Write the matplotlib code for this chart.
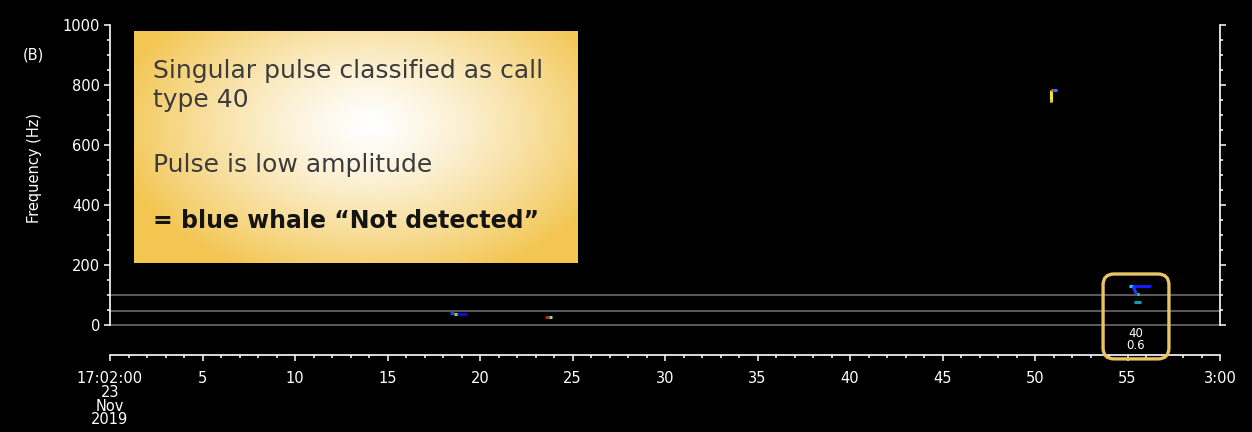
import numpy as np
import matplotlib
matplotlib.use("Agg")
import matplotlib.pyplot as plt
from matplotlib.patches import FancyBboxPatch
from matplotlib.ticker import MultipleLocator, FixedLocator

# ---------------- data ----------------
x_ticks = [0, 5, 10, 15, 20, 25, 30, 35, 40, 45, 50, 55, 60]
x_tick_labels = ["17:02:00\n23\nNov\n2019", "5", "10", "15", "20", "25", "30",
                 "35", "40", "45", "50", "55", "3:00"]
y_ticks = [0, 200, 400, 600, 800, 1000]
band_lines = [0, 48, 100]

# spectrogram fragments: start time (s), end time (s), start freq (Hz), end freq (Hz), colour
seg_t0 = [18.38, 18.62, 18.78, 23.50, 23.72, 50.86, 50.86, 50.97, 50.80, 55.08, 55.30, 55.30, 55.50, 55.35]
seg_t1 = [18.62, 18.80, 19.30, 23.75, 23.90, 50.86, 50.97, 51.20, 50.86, 55.30, 56.27, 55.50, 55.60, 55.75]
seg_f0 = [40, 36, 36, 28, 28, 745, 782, 782, 748, 130, 130, 130, 103, 78]
seg_f1 = [40, 36, 36, 28, 28, 782, 782, 782, 748, 130, 130, 100, 103, 78]
seg_col = ["#2a3cff", "#9ad43a", "#1010b8", "#b02a20", "#8ee08e", "#e6e830", "#ff5a20",
           "#2a78ff", "#b0b040", "#20d0ff", "#1818ff", "#1a3cff", "#40e040", "#10a0a8"]

# highlighted detection
det_t0, det_t1, det_f0, det_f1 = 53.68, 57.24, -113, 170
det_label = "40\n0.6"

box_lines = ["Singular pulse classified as call", "type 40", "Pulse is low amplitude",
             "= blue whale \u201cNot detected\u201d"]

# ---------------- figure ----------------
W, H = 1252, 432
fig = plt.figure(figsize=(W / 100, H / 100), dpi=100, facecolor="black")

ax = fig.add_axes([110 / W, 107 / H, 1110 / W, 300 / H])
ax.set_facecolor("black")
ax.set_xlim(0, 60)
ax.set_ylim(0, 1000)

for s in ["left", "right", "bottom"]:
    ax.spines[s].set_color("white")
    ax.spines[s].set_linewidth(1.2)
ax.spines["top"].set_visible(False)
ax.spines["bottom"].set_position(("outward", 21.6))

ax.xaxis.set_major_locator(FixedLocator(x_ticks))
ax.xaxis.set_minor_locator(MultipleLocator(1))
ax.set_xticklabels(x_tick_labels, fontsize=10.5, color="white", linespacing=0.9)
ax.yaxis.set_major_locator(FixedLocator(y_ticks))
ax.yaxis.set_minor_locator(MultipleLocator(50))
ax.set_yticklabels([str(v) for v in y_ticks], fontsize=10.5, color="white")
ax.tick_params(axis="both", which="both", direction="out", colors="white", width=1.1)
ax.tick_params(axis="x", which="major", length=4.5, pad=7)
ax.tick_params(axis="x", which="minor", length=2.5)
ax.tick_params(axis="y", which="major", length=4, pad=3, right=True, labelright=False)
ax.tick_params(axis="y", which="minor", length=2.2, right=True)

for b in band_lines:
    ax.axhline(b, color="#737373", lw=1.1, zorder=1, clip_on=False)

for t0, t1, f0, f1, c in zip(seg_t0, seg_t1, seg_f0, seg_f1, seg_col):
    ax.plot([t0, t1], [f0, f1], color=c, lw=2.2, solid_capstyle="butt", zorder=3)

# rounded highlight box (data-anchored)
px_per_s = 1110 / 60
px_per_hz = 300 / 1000
r_px = 11
patch = FancyBboxPatch((det_t0, det_f0), det_t1 - det_t0, det_f1 - det_f0,
                       boxstyle=f"round,pad=0,rounding_size={r_px / px_per_s}",
                       mutation_aspect=(r_px / px_per_hz) / (r_px / px_per_s),
                       fill=False, ec="#e8c465", lw=2.4, clip_on=False, zorder=5)
ax.add_patch(patch)
ax.text((det_t0 + det_t1) / 2, -47, det_label, color="white", fontsize=8.5,
        ha="center", va="center", linespacing=0.9, clip_on=False)

fig.text(35 / W, (432 - 168) / H, "Frequency (Hz)", color="white", fontsize=10.5,
         rotation=90, ha="center", va="center")
fig.text(33 / W, (432 - 55) / H, "(B)", color="white", fontsize=10.5, ha="center", va="center")

# gradient annotation box
bx = fig.add_axes([134 / W, (432 - 263) / H, 444 / W, 232 / H])
bx.set_axis_off()
nx, ny = 444, 232
xx, yy = np.meshgrid(np.linspace(0, 1, nx), np.linspace(0, 1, ny))
r = np.sqrt(((xx - 0.53) / 0.58) ** 2 + ((yy - 0.41) / 0.70) ** 2)
t = np.clip(r, 0, 1) ** 1.3
edge = np.array([243, 198, 82]) / 255.0
img = (1 - t)[..., None] * np.array([1.0, 1.0, 1.0]) + t[..., None] * edge
bx.imshow(img, extent=[0, 1, 0, 1], aspect="auto", origin="upper")
bx.set_xlim(0, 1)
bx.set_ylim(0, 1)
base_y = [0.797, 0.672, 0.392, 0.151]
weights = ["normal", "normal", "normal", "bold"]
sizes = [18, 18, 18, 17]
colors = ["#3c3c3c", "#3c3c3c", "#3c3c3c", "#141414"]
for txt, yb, wgt, sz, c in zip(box_lines, base_y, weights, sizes, colors):
    bx.text(0.043, yb, txt, fontsize=sz, fontweight=wgt, color=c, va="baseline",
            ha="left", family="DejaVu Sans", transform=bx.transAxes)

fig.savefig("out.png", dpi=100, facecolor="black")
